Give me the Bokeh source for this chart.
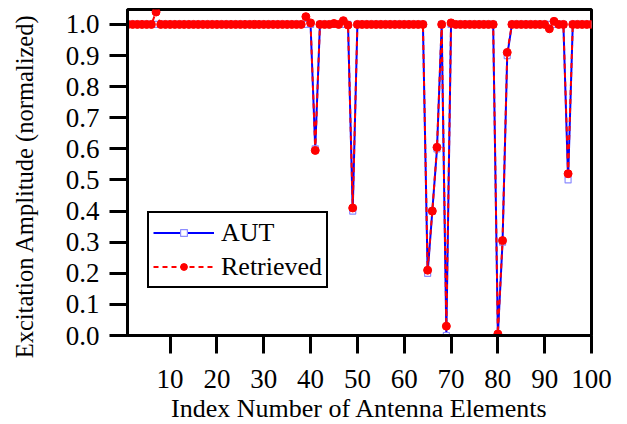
import math
from bokeh.plotting import figure
from bokeh.models import FixedTicker, PrintfTickFormatter, Range1d, Legend, LegendItem, Label
from bokeh.embed import file_html
from bokeh.resources import INLINE

# ---- data ----
elements = list(range(1, 101))

aut_dips = {41: 0.6, 49: 0.4, 65: 0.2, 66: 0.4, 67: 0.6, 69: 0.0,
            80: 0.0, 81: 0.3, 82: 0.9, 95: 0.5}
retrieved_dips = {7: 1.04, 39: 1.025, 40: 1.005, 41: 0.595, 45: 1.003, 47: 1.012,
                  48: 0.998, 49: 0.41, 65: 0.21, 66: 0.40, 67: 0.605, 69: 0.03,
                  70: 1.005, 80: 0.005, 81: 0.305, 82: 0.91, 91: 0.986, 92: 1.01,
                  95: 0.52}

aut = [aut_dips.get(i, 1.0) for i in elements]
retrieved = [retrieved_dips.get(i, 1.0) for i in elements]

x_ticks = [10, 20, 30, 40, 50, 60, 70, 80, 90, 100]
y_ticks = [0.0, 0.1, 0.2, 0.3, 0.4, 0.5, 0.6, 0.7, 0.8, 0.9, 1.0]

x_title = "Index Number of Antenna Elements"
y_title = "Excitation Amplitude (normalized)"

FONT = "Liberation Serif"

p = figure(width=626, height=423, output_backend="svg", toolbar_location=None,
           x_range=Range1d(0.9, 100), y_range=Range1d(0, 1.048),
           min_border_left=127, min_border_right=35, min_border_top=9,
           min_border_bottom=88)

p.background_fill_color = "white"
p.border_fill_color = "white"
p.outline_line_color = "black"
p.outline_line_width = 3
p.xgrid.visible = False
p.ygrid.visible = False

# AUT
l1 = p.line(elements, aut, line_color="#0000ff", line_width=2)
s1 = p.scatter(elements, aut, marker="square", size=6, fill_color="white",
               line_color="#8c8cff", line_width=1.2)
# Retrieved
l2 = p.line(elements, retrieved, line_color="#ff0000", line_width=2,
            line_dash="5 4")
s2 = p.scatter(elements, retrieved, marker="circle", size=8, fill_color="#ff0000",
               line_color="#ff0000")

for ax in (p.xaxis[0], p.yaxis[0]):
    ax.axis_line_width = 3
    ax.axis_line_color = "black"
    ax.major_tick_line_width = 3
    ax.major_tick_out = 18
    ax.major_tick_in = 0
    ax.minor_tick_line_color = None
    ax.major_label_text_font = FONT
    ax.major_label_text_font_size = "27px"
    ax.major_label_text_color = "black"

p.xaxis.ticker = FixedTicker(ticks=x_ticks)
p.yaxis.ticker = FixedTicker(ticks=y_ticks)
p.yaxis.formatter = PrintfTickFormatter(format="%.1f")
p.xaxis.major_label_standoff = 16
p.yaxis.major_label_standoff = 10

# axis titles: labels in the side panels (not clipped to the frame),
# positioned through the plot's own scales
p.add_layout(Label(x=50.45, y=-0.236, text=x_title, text_align="center",
                   text_baseline="alphabetic", text_font=FONT,
                   text_font_size="26px", text_color="black"), "below")
p.add_layout(Label(x=-21.2, y=0.48, text=y_title, angle=math.pi / 2,
                   text_align="center", text_baseline="alphabetic",
                   text_font=FONT, text_font_size="24.5px", text_color="black"),
             "left")

legend = Legend(items=[LegendItem(label="AUT", renderers=[l1, s1]),
                       LegendItem(label="Retrieved", renderers=[l2, s2])],
                location=(20, 47))
legend.label_text_font = FONT
legend.label_text_font_size = "26px"
legend.label_text_color = "black"
legend.glyph_width = 61
legend.glyph_height = 17
legend.label_height = 31
legend.label_standoff = 7
legend.padding = 4
legend.spacing = 3
legend.margin = 0
legend.border_line_color = "black"
legend.border_line_alpha = 1.0
legend.border_line_width = 2
legend.background_fill_color = "white"
legend.background_fill_alpha = 1
p.add_layout(legend, "center")

open("out.html", "w").write(file_html(p, INLINE))
